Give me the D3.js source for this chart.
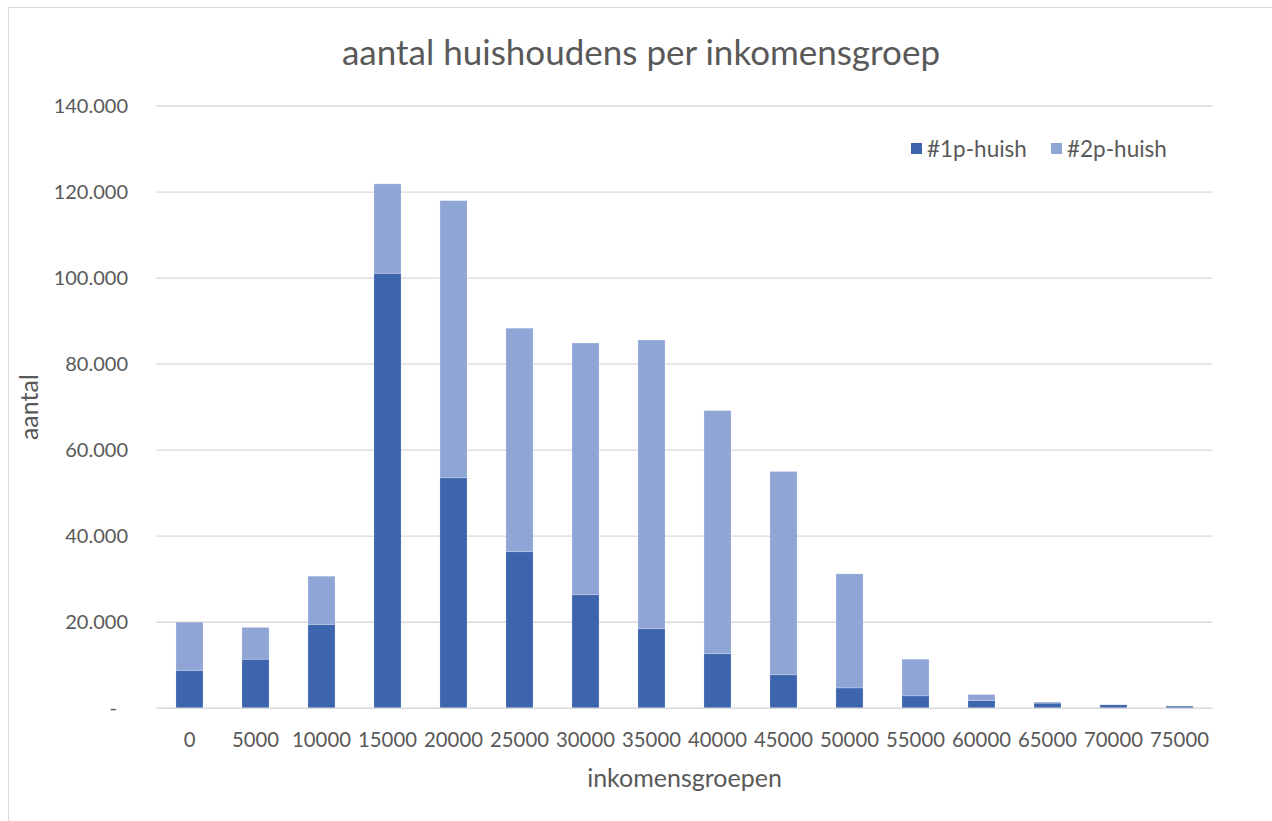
<!DOCTYPE html>
<html><head><meta charset="utf-8">
<script src="https://cdn.jsdelivr.net/npm/d3@7"></script>
<style>html,body{margin:0;padding:0;background:#fff;overflow:hidden}</style>
</head><body>
<svg id="c" width="1272" height="821"></svg>
<script>
const categories = ["0","5000","10000","15000","20000","25000","30000","35000","40000","45000","50000","55000","60000","65000","70000","75000"];
const p1 = [8800,11400,19500,101100,53600,36400,26400,18500,12700,7800,4750,2900,1800,1200,800,500];
const p2 = [11200,7400,11200,20800,64400,51950,58500,67100,56500,47250,26500,8500,1400,250,0,0];
const seriesNames = ["#1p-huish","#2p-huish"];
const yTicks = [0,20000,40000,60000,80000,100000,120000,140000];

const colors = ["#3C65AD","#8FA5D6"];
const textCol = "#595959";
const font = "Lato, 'Open Sans', sans-serif";

const svg = d3.select("#c");
const L = 156.5, R = 1212.5, T = 106, B = 708.3;

// chart frame
svg.append("rect").attr("x",8.5).attr("y",7.5).attr("width",1300).attr("height",900)
  .attr("fill","#fff").attr("stroke","#D9D9D9").attr("stroke-width",1);

const x = d3.scaleBand().domain(categories).range([L,R]).paddingInner(0.59).paddingOuter(0.295);
const y = d3.scaleLinear().domain([0,140000]).range([B,T]);

const loc = d3.formatLocale({decimal:",",thousands:".",grouping:[3],currency:["",""]});
const fmt = loc.format(",");

// gridlines
svg.append("g").selectAll("line").data(yTicks.filter(d=>d>0)).join("line")
  .attr("x1",L).attr("x2",R).attr("y1",d=>y(d)).attr("y2",d=>y(d))
  .attr("stroke","#D9D9D9").attr("stroke-width",1.3);

// y labels
svg.append("g").selectAll("text").data(yTicks).join("text")
  .attr("x",d=>d===0?117:128).attr("y",d=>y(d)).attr("dy","0.35em")
  .attr("text-anchor","end").attr("fill",textCol)
  .style("font-family",font).style("font-size","20px")
  .text(d=>d===0?"-":fmt(d));

// stacked bars
const rows = categories.map((c,i)=>({cat:c, a:p1[i], b:p2[i]}));
const stack = d3.stack().keys(["a","b"])(rows);
svg.append("g").selectAll("g").data(stack).join("g")
  .attr("fill",(d,i)=>colors[i])
  .selectAll("rect").data(d=>d).join("rect")
  .attr("x",d=>x(d.data.cat)).attr("width",x.bandwidth())
  .attr("y",d=>y(d[1])).attr("height",d=>Math.max(0,y(d[0])-y(d[1])))
  .attr("stroke","#ffffff").attr("stroke-opacity",0.25).attr("stroke-width",0.8);

// x axis line
svg.append("line").attr("x1",L).attr("x2",R).attr("y1",B).attr("y2",B)
  .attr("stroke","#D9D9D9").attr("stroke-width",1.5);

// x labels
const xAxis = d3.axisBottom(x).tickSize(0).tickPadding(0);
const gx = svg.append("g").attr("transform",`translate(0,${B})`).call(xAxis);
gx.select(".domain").remove();
gx.selectAll("text").attr("y",32).attr("dy","0.35em").attr("fill",textCol)
  .style("font-family",font).style("font-size","20.3px");

// title
svg.append("text").attr("x",641).attr("y",65).attr("text-anchor","middle")
  .attr("fill",textCol).style("font-family",font).style("font-size","35px")
  .text("aantal huishoudens per inkomensgroep");

// axis titles
svg.append("text").attr("x",(L+R)/2).attr("y",787).attr("text-anchor","middle")
  .attr("fill",textCol).style("font-family",font).style("font-size","25px")
  .text("inkomensgroepen");
svg.append("text").attr("transform",`translate(38,${(T+B)/2}) rotate(-90)`)
  .attr("text-anchor","middle").attr("fill",textCol)
  .style("font-family",font).style("font-size","25px").text("aantal");

// legend
const legX = [911,1051];
const lg = svg.append("g").selectAll("g").data(seriesNames).join("g")
  .attr("transform",(d,i)=>`translate(${legX[i]},143)`);
lg.append("rect").attr("width",11).attr("height",11).attr("fill",(d,i)=>colors[i]);
lg.append("text").attr("x",16).attr("y",6).attr("dy","0.35em").attr("fill",textCol)
  .style("font-family",font).style("font-size","22.5px").text(d=>d);
</script>
</body></html>
